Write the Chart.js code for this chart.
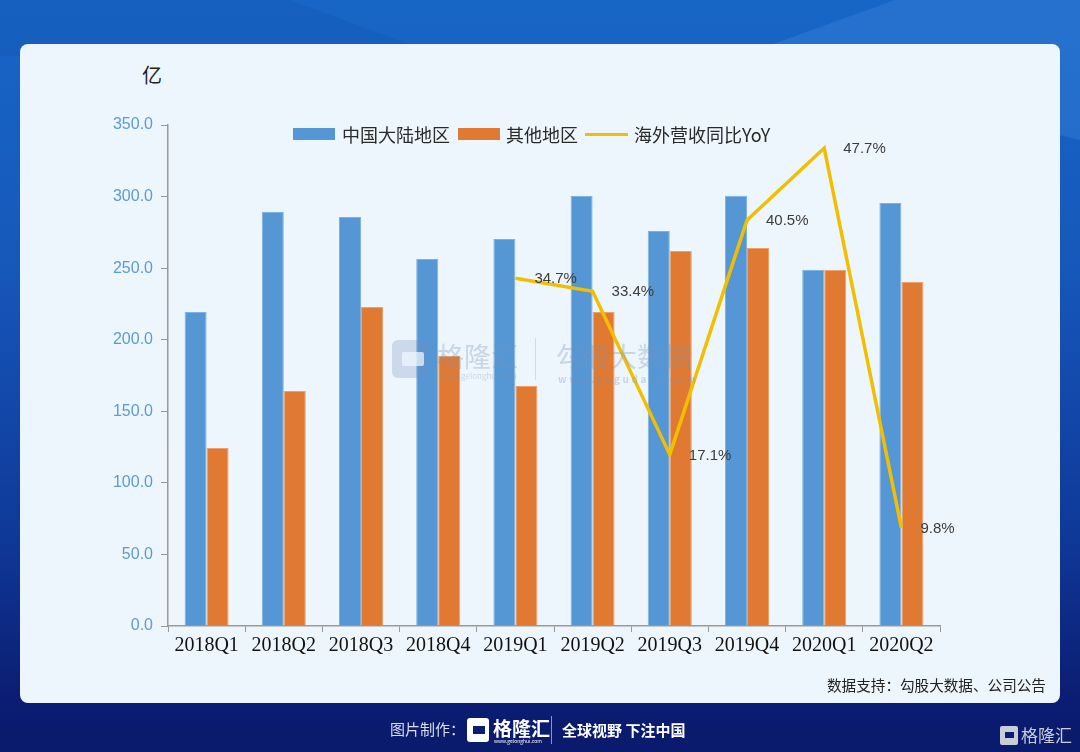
<!DOCTYPE html>
<html><head><meta charset="utf-8">
<script src="https://cdn.jsdelivr.net/npm/chart.js@4"></script>
<style>
html,body{margin:0;padding:0;}
body{width:1080px;height:752px;overflow:hidden;position:relative;
 background:linear-gradient(180deg,#1766c6 0%,#1658bb 35%,#0f3a9a 70%,#0b1d72 93%,#0a1a6c 100%);
 font-family:"Noto Sans CJK SC","Noto Sans",sans-serif;}
.deco1{position:absolute;left:0;top:0;width:1080px;height:752px;background:rgba(90,160,235,0.22);
 clip-path:polygon(895px 0,1080px 0,1080px 140px,740px 56px);}
.deco2{position:absolute;left:0;top:0;width:1080px;height:752px;background:rgba(20,80,170,0.25);
 clip-path:polygon(0 0,290px 0,440px 56px,0 56px);}
.panel{position:absolute;left:20px;top:44px;width:1040px;height:659px;background:#eef6fd;border-radius:8px;}
#wrap{position:absolute;left:0;top:0;width:1080px;height:752px;}
.abs{position:absolute;white-space:nowrap;}
.lg{font-size:18px;color:#2a2a2a;line-height:20px;}
.wm{color:rgba(120,145,185,0.33);}
.foot{color:#fff;}
</style></head>
<body>
<div class="deco2"></div>
<div class="deco1"></div>
<div class="panel"></div>
<div class="abs" style="left:142px;top:60px;font-size:20px;color:#222;">亿</div>
<div id="wrap"><canvas id="c" width="1080" height="752"></canvas></div>

<!-- legend -->
<div class="abs" style="left:293px;top:128px;width:42px;height:12px;background:#5596d4;"></div>
<div class="abs lg" style="left:342px;top:124px;">中国大陆地区</div>
<div class="abs" style="left:458px;top:128px;width:42px;height:12px;background:#e07a32;"></div>
<div class="abs lg" style="left:506px;top:124px;">其他地区</div>
<div class="abs" style="left:585px;top:133px;width:43px;height:3px;background:#f2bf00;"></div>
<div class="abs lg" style="left:634px;top:124px;">海外营收同比YoY</div>

<!-- watermark -->
<div class="abs" style="left:392px;top:340px;width:36px;height:38px;background:rgba(120,145,185,0.28);border-radius:6px;"></div>
<div class="abs" style="left:402px;top:352px;width:22px;height:14px;background:#eef6fd;opacity:0.75;border-radius:2px;"></div>
<div class="abs wm" style="left:437px;top:336px;font-size:27px;">格隆汇</div>
<div class="abs wm" style="left:440px;top:370px;font-size:8px;">www.gelonghui.com</div>
<div class="abs" style="left:535px;top:338px;width:1px;height:42px;background:rgba(120,145,185,0.25);"></div>
<div class="abs wm" style="left:556px;top:336px;font-size:27px;">勾股大数据</div>
<div class="abs wm" style="left:558px;top:371px;font-size:10px;letter-spacing:2.6px;font-weight:bold;">www.gogudata.com</div>

<div class="abs" style="left:827px;top:674px;font-size:14.6px;color:#222;">数据支持：勾股大数据、公司公告</div>

<!-- footer -->
<div class="abs foot" style="left:390px;top:718px;font-size:15px;color:#d8def0;">图片制作：</div>
<div class="abs" style="left:467px;top:718px;width:22px;height:24px;background:#fff;border-radius:3px;"></div>
<div class="abs" style="left:473px;top:726px;width:12px;height:8px;background:#0b1d72;"></div>
<div class="abs foot" style="left:493px;top:714px;font-size:19px;font-weight:bold;">格隆汇</div>
<div class="abs foot" style="left:494px;top:737px;font-size:5px;">www.gelonghui.com</div>
<div class="abs" style="left:551px;top:716px;width:1px;height:28px;background:#8896c0;"></div>
<div class="abs foot" style="left:562px;top:719px;font-size:15px;font-weight:bold;">全球视野 下注中国</div>
<div class="abs" style="left:1000px;top:726px;width:18px;height:19px;background:#c8cdd8;border-radius:2px;"></div>
<div class="abs" style="left:1005px;top:732px;width:9px;height:6px;background:#0b1d72;"></div>
<div class="abs" style="left:1021px;top:722px;font-size:17px;color:#c8cdd8;">格隆汇</div>

<script>
const categories = ['2018Q1','2018Q2','2018Q3','2018Q4','2019Q1','2019Q2','2019Q3','2019Q4','2020Q1','2020Q2'];
const mainland = [219.4, 289.2, 285.8, 256.4, 270.4, 300.4, 276.0, 300.5, 248.8, 295.5];
const others   = [124.3, 164.1, 222.8, 188.6, 167.6, 219.3, 262.0, 264.0, 248.8, 240.3];
const yoy      = [null, null, null, null, 34.7, 33.4, 17.1, 40.5, 47.7, 9.8];
const yoyLabels = ['', '', '', '', '34.7%', '33.4%', '17.1%', '40.5%', '47.7%', '9.8%'];
const yTicks = [0, 50, 100, 150, 200, 250, 300, 350];

const labelPlugin = {
  id: 'yoyLabels',
  afterDatasetsDraw(chart) {
    const meta = chart.getDatasetMeta(2);
    const ctx = chart.ctx;
    ctx.save();
    ctx.font = '15px "Liberation Sans", Arial, sans-serif';
    ctx.fillStyle = '#3c3c3c';
    ctx.textAlign = 'left';
    ctx.textBaseline = 'middle';
    meta.data.forEach((pt, i) => {
      if (yoy[i] == null) return;
      ctx.fillText(yoyLabels[i], pt.x + 19, pt.y + 1);
    });
    ctx.restore();
  }
};

new Chart(document.getElementById('c'), {
  data: {
    labels: categories,
    datasets: [
      { type: 'bar', label: '中国大陆地区', data: mainland, backgroundColor: '#5596d4', borderColor: '#7db2e4', borderWidth: 1, yAxisID: 'y', order: 2, categoryPercentage: 0.57, barPercentage: 1.0 },
      { type: 'bar', label: '其他地区', data: others, backgroundColor: '#e07a32', borderColor: '#eea06a', borderWidth: 1, yAxisID: 'y', order: 2, categoryPercentage: 0.57, barPercentage: 1.0 },
      { type: 'line', label: '海外营收同比YoY', data: yoy, borderColor: '#f2bf00', borderWidth: 3.5, pointRadius: 0, tension: 0, yAxisID: 'y1', order: 1, spanGaps: false }
    ]
  },
  options: {
    responsive: false,
    animation: false,
    layout: { padding: { left: 98, right: 140, top: 125, bottom: 66 } },
    plugins: { legend: { display: false }, tooltip: { enabled: false } },
    scales: {
      x: {
        grid: { display: true, drawOnChartArea: false, drawTicks: true, tickLength: 6, color: '#9a9a9a', offset: true },
        border: { display: true, color: '#9a9a9a', width: 1.5 },
        ticks: { color: '#111', font: { family: '"Liberation Serif", "Times New Roman", serif', size: 20 }, padding: 2, maxRotation: 0, autoSkip: false },
        afterFit(s) { s.height = 60; }
      },
      y: {
        min: 0, max: 350,
        afterBuildTicks(s) { s.ticks = yTicks.map(v => ({ value: v })); },
        grid: { display: true, drawOnChartArea: false, drawTicks: true, tickLength: 7, color: '#9a9a9a' },
        border: { display: true, color: '#9a9a9a', width: 1.5 },
        ticks: { color: '#5b9bd5', font: { family: '"Liberation Sans", Arial, sans-serif', size: 16 }, padding: 8, callback: v => Number(v).toFixed(1) },
        afterFit(s) { s.width = 70; }
      },
      y1: { display: false, min: 0, max: 50, position: 'right' }
    }
  },
  plugins: [labelPlugin]
});
</script>
</body></html>
